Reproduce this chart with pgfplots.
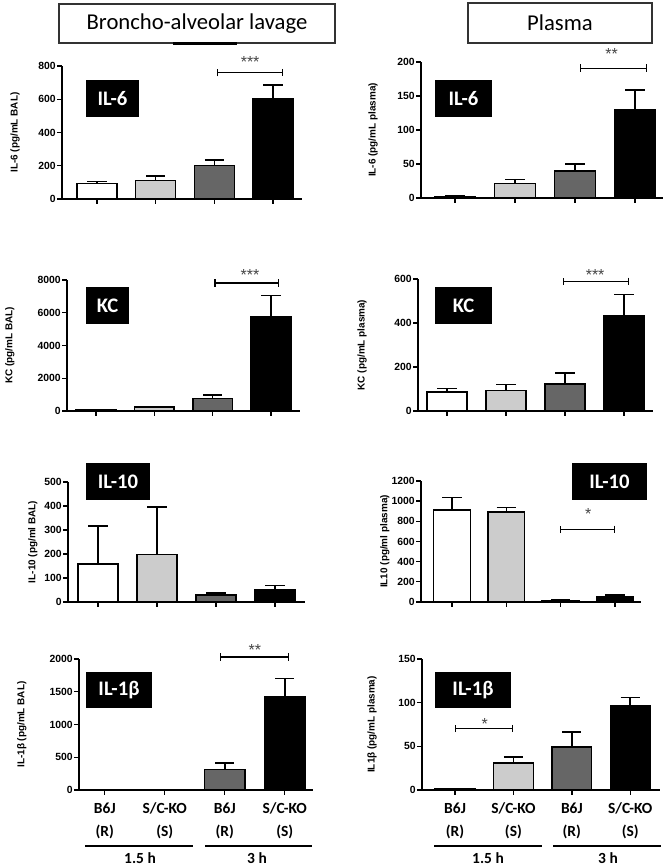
\documentclass[border=0pt]{standalone}
\usepackage{pgfplots}
\pgfplotsset{compat=1.18}
\usepackage{fontspec}
\setmainfont{Liberation Sans}
\newfontfamily\calfont{Carlito}
\usetikzlibrary{arrows.meta}
\definecolor{lg}{HTML}{CCCCCC}
\definecolor{dg}{HTML}{666666}
\definecolor{stc}{HTML}{444444}
\tikzset{
 br/.style={{Bar[width=5.5pt]}-{Bar[width=5.5pt]}, line width=0.9pt, black},
 st/.style={font=\fontsize{12}{12}\selectfont, text=stc, yshift=-2.5pt},
}
\pgfplotsset{
 pan/.style={
  scale only axis, anchor=south west, clip=false,
  axis x line*=bottom, axis y line*=left,
  axis line style={-, line width=1pt},
  tick align=outside, major tick length=3.5pt,
  every tick/.style={line width=1pt, black},
  xtick={0,1,2,3}, xticklabels={,,,},
  ymin=0,
  tick label style={font=\bfseries\fontsize{7.8}{9}\selectfont},
  /pgf/number format/assume math mode=true,
  scaled y ticks=false,
  yticklabel style={/pgf/number format/1000 sep={}, inner sep=1pt},
  ylabel style={anchor=center, font=\bfseries\fontsize{7.45}{9}\selectfont},
 },
 bot/.style={
  xticklabels={B6J\\[4.3pt](R), S/C-KO\\[4.3pt](S), B6J\\[4.3pt](R), S/C-KO\\[4.3pt](S)},
  xticklabel style={align=center, font=\calfont\bfseries\fontsize{11.6}{13}\selectfont, yshift=-2.5pt},
 },
 bb/.style={ybar, bar width=0.68, bar shift=0, draw=black, line width=1.1pt,
  error bars/y dir=plus, error bars/y explicit,
  error bars/error bar style={line width=1.1pt, black},
  error bars/error mark options={rotate=90, mark size=7.2pt, line width=1.1pt, black}},
}
\begin{document}
\begin{tikzpicture}
\path[use as bounding box] (0,0) rectangle (502.5pt,651pt);

% ---------- Row 1 ----------
\begin{axis}[pan, at={(46.5pt,501.75pt)}, width=180pt, height=99.75pt,
  xmin=-0.597, xmax=3.494, ymax=800, ytick={0,200,400,600,800},
  ylabel={IL-6 (pg/mL BAL)}, ylabel style={at={(axis description cs:-0.196,0.5)}}]
\addplot[bb, fill=white] coordinates {(0,92) +- (0,14)};
\addplot[bb, fill=lg] coordinates {(1,112) +- (0,26)};
\addplot[bb, fill=dg] coordinates {(2,203) +- (0,31)};
\addplot[bb, fill=black] coordinates {(3,603) +- (0,84)};
\draw[br] (axis cs:2.05,760) -- (axis cs:3.17,760);
\node[st] at (axis cs:2.61,845) {***};
\end{axis}

\begin{axis}[pan, at={(315.75pt,502.5pt)}, width=181.5pt, height=102pt,
  xmin=-0.567, xmax=3.467, ymax=200, ytick={0,50,100,150,200},
  ylabel={IL-6 (pg/mL plasma)}, ylabel style={at={(axis description cs:-0.198,0.5)}}]
\addplot[bb, fill=white] coordinates {(0,2) +- (0,1)};
\addplot[bb, fill=lg] coordinates {(1,21) +- (0,6)};
\addplot[bb, fill=dg] coordinates {(2,40) +- (0,10)};
\addplot[bb, fill=black] coordinates {(3,130) +- (0,29)};
\draw[br] (axis cs:2.08,191) -- (axis cs:3.2,191);
\node[st] at (axis cs:2.61,216) {**};
\end{axis}

% ---------- Row 2 ----------
\begin{axis}[pan, at={(50.25pt,342.75pt)}, width=174.75pt, height=98.25pt,
  xmin=-0.497, xmax=3.497, ymax=8000, ytick={0,2000,4000,6000,8000},
  ylabel={KC (pg/mL BAL)}, ylabel style={at={(axis description cs:-0.245,0.5)}}]
\addplot[bb, fill=white] coordinates {(0,60) +- (0,25)};
\addplot[bb, fill=lg] coordinates {(1,230) +- (0,60)};
\addplot[bb, fill=dg] coordinates {(2,775) +- (0,200)};
\addplot[bb, fill=black] coordinates {(3,5760) +- (0,1280)};
\draw[br] (axis cs:2.03,7820) -- (axis cs:3.14,7820);
\node[st] at (axis cs:2.64,8500) {***};
\end{axis}

\begin{axis}[pan, at={(313.5pt,342.75pt)}, width=176.25pt, height=99pt,
  xmin=-0.49, xmax=3.49, ymax=600, ytick={0,200,400,600},
  ylabel={KC (pg/mL plasma)}, ylabel style={at={(axis description cs:-0.238,0.5)}}]
\addplot[bb, fill=white] coordinates {(0,86) +- (0,16)};
\addplot[bb, fill=lg] coordinates {(1,93) +- (0,28)};
\addplot[bb, fill=dg] coordinates {(2,122) +- (0,50)};
\addplot[bb, fill=black] coordinates {(3,431) +- (0,99)};
\draw[br] (axis cs:1.96,590) -- (axis cs:3.08,590);
\node[st] at (axis cs:2.51,635) {***};
\end{axis}

% ---------- Row 3 ----------
\begin{axis}[pan, at={(51pt,199.5pt)}, width=177.75pt, height=90pt,
  xmin=-0.51, xmax=3.51, ymax=500, ytick={0,100,200,300,400,500},
  ylabel={IL-10 (pg/ml BAL)}, ylabel style={at={(axis description cs:-0.148,0.5)}}]
\addplot[bb, fill=white] coordinates {(0,158) +- (0,158)};
\addplot[bb, fill=lg] coordinates {(1,197) +- (0,198)};
\addplot[bb, fill=dg] coordinates {(2,30) +- (0,8)};
\addplot[bb, fill=black] coordinates {(3,53) +- (0,16)};
\end{axis}

\begin{axis}[pan, at={(315.75pt,199.5pt)}, width=165pt, height=90.75pt,
  xmin=-0.57, xmax=3.48, ymax=1200, ytick={0,200,400,600,800,1000,1200},
  ylabel={IL10 (pg/ml plasma)}, ylabel style={at={(axis description cs:-0.164,0.5)}}]
\addplot[bb, fill=white] coordinates {(0,912) +- (0,122)};
\addplot[bb, fill=lg] coordinates {(1,893) +- (0,46)};
\addplot[bb, fill=dg] coordinates {(2,12) +- (0,8)};
\addplot[bb, fill=black] coordinates {(3,55) +- (0,15)};
\draw[br] (axis cs:1.98,720) -- (axis cs:3.0,720);
\node[st] at (axis cs:2.51,905) {*};
\end{axis}

% ---------- Row 4 ----------
\begin{axis}[pan, bot, at={(59.25pt,58.5pt)}, width=175.5pt, height=98.25pt,
  xmin=-0.43, xmax=3.47, ymax=2000, ytick={0,500,1000,1500,2000},
  ylabel={IL-1β (pg/mL BAL)}, ylabel style={at={(axis description cs:-0.244,0.5)}}]
\addplot[bb, fill=white] coordinates {(0,8) +- (0,3)};
\addplot[bb, fill=lg] coordinates {(1,8) +- (0,3)};
\addplot[bb, fill=dg] coordinates {(2,310) +- (0,100)};
\addplot[bb, fill=black] coordinates {(3,1425) +- (0,275)};
\draw[br] (axis cs:1.92,2030) -- (axis cs:3.07,2030);
\node[st] at (axis cs:2.5,2190) {**};
\end{axis}

\begin{axis}[pan, bot, at={(316.5pt,58.5pt)}, width=178.5pt, height=98.25pt,
  xmin=-0.566, xmax=3.51, ymax=150, ytick={0,50,100,150},
  ylabel={IL1β (pg/mL plasma)}, ylabel style={at={(axis description cs:-0.21,0.5)}}]
\addplot[bb, fill=white] coordinates {(0,1) +- (0,0.5)};
\addplot[bb, fill=lg] coordinates {(1,31) +- (0,7)};
\addplot[bb, fill=dg] coordinates {(2,49.5) +- (0,17)};
\addplot[bb, fill=black] coordinates {(3,96) +- (0,10)};
\draw[br] (axis cs:0,70.4) -- (axis cs:1,70.4);
\node[st] at (axis cs:0.51,79) {*};
\end{axis}

% ---------- Annotations ----------
\begin{scope}[x=0.75pt, y=0.75pt]
\draw[line width=0.8pt, black!80] (59,864) rectangle (335,825);
\draw[line width=1.6pt, black] (173,824.5) -- (237,824.5);
\node[font=\calfont\fontsize{17}{18}\selectfont] at (197,844.5) {Broncho-alveolar lavage};
\draw[line width=0.8pt, black!80] (468,865) rectangle (652,825);
\node[font=\calfont\fontsize{17}{18}\selectfont] at (560,845) {Plasma};

\tikzset{lab/.style={fill=black, text=white, inner sep=0pt, font=\calfont\bfseries\fontsize{15.5}{17}\selectfont}}
\node[lab, minimum width=39.75pt, minimum height=27.75pt] at (112.5,769.5) {IL-6};
\node[lab, minimum width=42.75pt, minimum height=27.75pt] at (463.5,769.5) {IL-6};
\node[lab, minimum width=32.25pt, minimum height=27.75pt] at (107.5,562.5) {KC};
\node[lab, minimum width=42.75pt, minimum height=27.75pt] at (463.5,562.5) {KC};
\node[lab, minimum width=48pt, minimum height=27.75pt] at (118,386.5) {IL-10};
\node[lab, minimum width=56.25pt, minimum height=27.75pt] at (609.5,386.5) {IL-10};
\node[lab, minimum width=49.5pt, minimum height=27pt] at (119,178) {IL-1β};
\node[lab, minimum width=57pt, minimum height=27pt] at (473,178) {IL-1β};

\draw[line width=1.1pt] (85,22) -- (193,22) (205,22) -- (312,22);
\draw[line width=1.1pt] (434,22) -- (542,22) (553,22) -- (661,22);
\tikzset{grp/.style={font=\calfont\bfseries\fontsize{11.6}{13}\selectfont, anchor=base, inner sep=0pt}}
\node[grp] at (140,4) {1.5 h};
\node[grp] at (257,4) {3 h};
\node[grp] at (488,4) {1.5 h};
\node[grp] at (608,4) {3 h};
\end{scope}
\end{tikzpicture}
\end{document}
